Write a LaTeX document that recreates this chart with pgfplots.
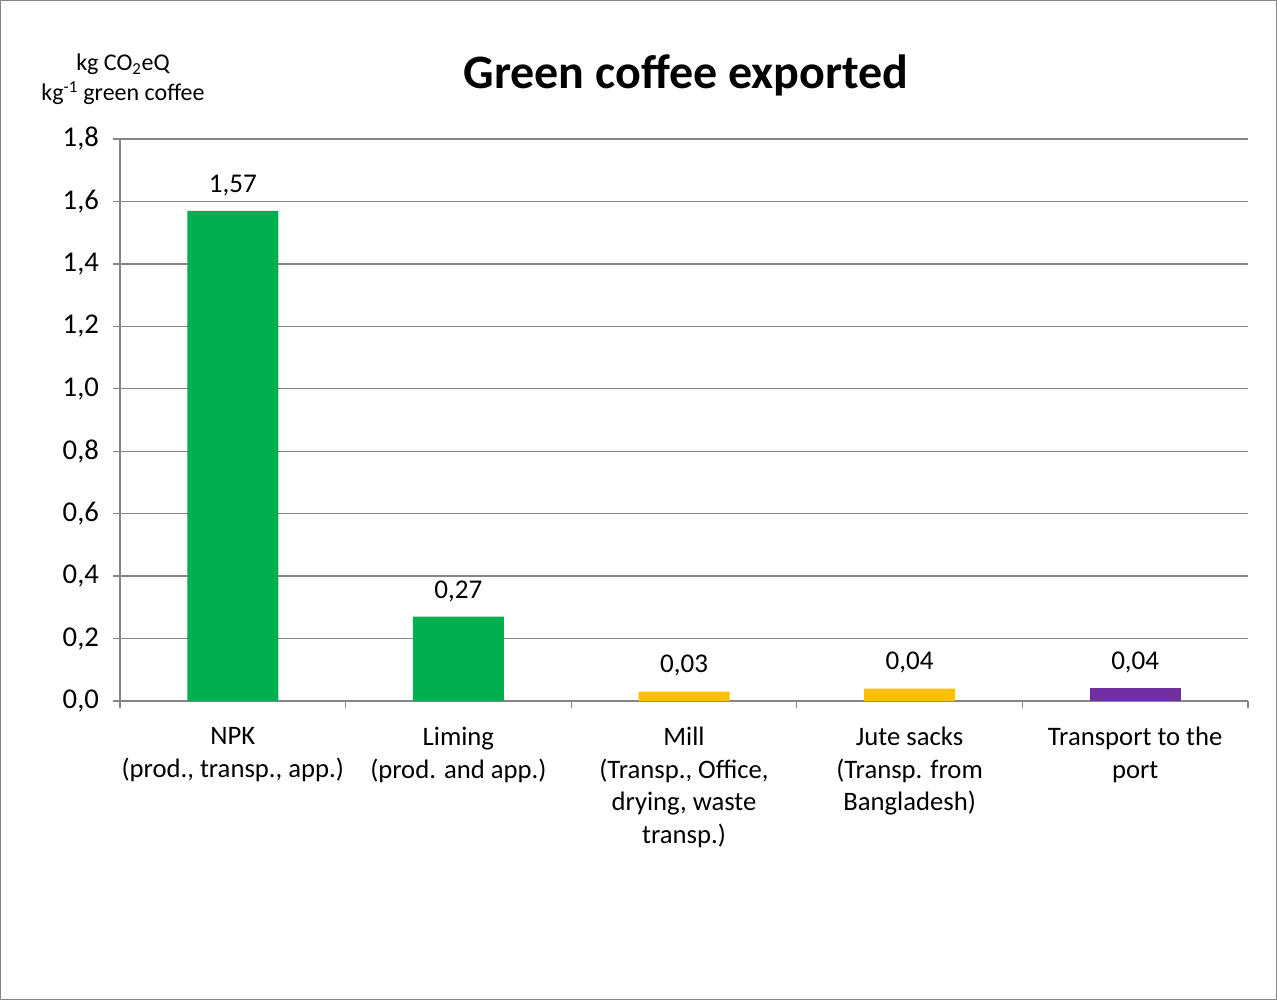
\documentclass[border=0pt]{standalone}
\usepackage{pgfplots}
\pgfplotsset{compat=1.18}
\usepackage{fontspec}
\setmainfont{Carlito}
\definecolor{cgreen}{HTML}{00B050}
\definecolor{cyellow}{HTML}{FFC000}
\definecolor{cpurple}{HTML}{7030A0}
\definecolor{gridgray}{HTML}{868686}
\begin{document}
\begin{tikzpicture}[x=1pt,y=1pt]
\draw[color=gridgray, line width=1pt] (0.5,0.5) rectangle (957.25,749.5);
\node[font=\fontsize{36}{42}\selectfont\bfseries] at (514.5,693.5) {Green coffee exported};
\node[align=center, font=\fontsize{18}{22.5}\selectfont] at (92.25,690.5) {kg CO\textsubscript{2}eQ\\kg\textsuperscript{-1} green coffee};
\begin{axis}[
  at={(90pt,224.25pt)}, anchor=south west,
  scale only axis, width=846pt, height=421.5pt,
  xmin=-0.5, xmax=4.5, ymin=0, ymax=1.8,
  ytick={0,0.2,0.4,0.6,0.8,1.0,1.2,1.4,1.6,1.8},
  xtick={0,1,2,3,4},
  xticklabels={{NPK\\(prod., transp., app.)},{Liming\\(prod. and app.)},{Mill\\(Transp., Office,\\drying, waste\\transp.)},{Jute sacks\\(Transp. from\\Bangladesh)},{Transport to the\\port}},
  minor xtick={-0.5,0.5,1.5,2.5,3.5,4.5},
  x tick style={draw=none},
  minor x tick style={draw=gridgray, line width=1pt},
  y tick style={draw=gridgray, line width=1pt},
  tick align=outside,
  major tick length=5.25pt, minor tick length=5.25pt,
  axis lines*=left,
  axis line style={draw=gridgray, line width=1pt},
  ymajorgrids, grid style={draw=gridgray, line width=1pt},
  yticklabel style={font=\fontsize{21.5}{24}\selectfont, xshift=-7pt},
  yticklabel={\pgfmathprintnumber[use comma, fixed, fixed zerofill, precision=1, assume math mode=true]{\tick}},
  xticklabel style={align=center, font=\fontsize{20}{24.4}\selectfont, anchor=north, yshift=-11pt},
  ybar, bar width=68.25pt, bar shift=0pt,
  nodes near coords={\pgfmathprintnumber[use comma, fixed, fixed zerofill, precision=2, assume math mode=true]{\pgfplotspointmeta}},
  every node near coord/.append style={font=\fontsize{20.3}{24}\selectfont, anchor=base, yshift=14pt, text=black},
  clip=false,
]
\addplot[fill=cgreen, draw=none] coordinates {(0,1.57) (1,0.27)};
\addplot[fill=cyellow, draw=none] coordinates {(2,0.03) (3,0.04)};
\addplot[fill=cpurple, draw=none] coordinates {(4,0.042)};
\end{axis}
\end{tikzpicture}
\end{document}
